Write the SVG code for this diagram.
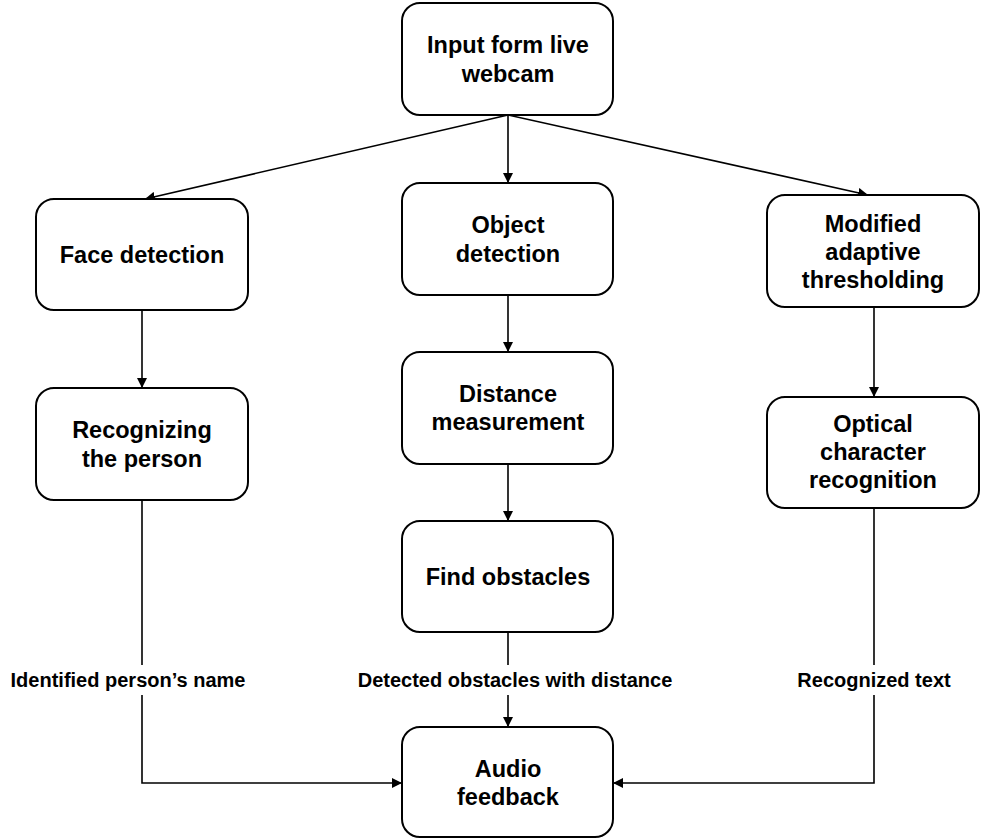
<svg xmlns="http://www.w3.org/2000/svg" width="981" height="839" viewBox="0 0 981 839">
  <defs>
    <marker id="arrow" viewBox="0 0 10 10" refX="10" refY="5" markerWidth="10" markerHeight="10" markerUnits="userSpaceOnUse" orient="auto">
      <path d="M0,0 L10,5 L0,10 Z" fill="#000"/>
    </marker>
  </defs>
  <style>
    .box { fill: #fff; stroke: #000; stroke-width: 2; }
    .lbl { font-family: "Liberation Sans", Arial, sans-serif; font-weight: bold; font-size: 23.5px; fill: #000; text-anchor: middle; }
    .edge-lbl { font-family: "Liberation Sans", Arial, sans-serif; font-weight: bold; font-size: 20px; fill: #000; text-anchor: middle; }
    .wire { fill: none; stroke: #000; stroke-width: 1.6; }
    .arr { marker-end: url(#arrow); }
  </style>
  <rect width="981" height="839" fill="#fff"/>

  <g id="connectors">
    <line class="wire arr" x1="508" y1="115" x2="145" y2="199"/>
    <line class="wire arr" x1="508" y1="115" x2="508" y2="183"/>
    <line class="wire arr" x1="508" y1="115" x2="868" y2="195"/>
    <line class="wire arr" x1="142" y1="310" x2="142" y2="388"/>
    <line class="wire arr" x1="508" y1="295" x2="508" y2="352"/>
    <line class="wire arr" x1="508" y1="464" x2="508" y2="521"/>
    <line class="wire arr" x1="874" y1="307" x2="874" y2="397"/>
    <!-- outputs into audio feedback, interrupted by their labels -->
    <line class="wire" x1="142" y1="500" x2="142" y2="665"/>
    <polyline class="wire arr" points="142,695 142,783 402,783"/>
    <line class="wire" x1="508" y1="632" x2="508" y2="665"/>
    <line class="wire arr" x1="508" y1="695" x2="508" y2="727"/>
    <line class="wire" x1="874" y1="508" x2="874" y2="665"/>
    <polyline class="wire arr" points="874,695 874,783 613,783"/>
    <text class="edge-lbl" x="128" y="687">Identified person’s name</text>
    <text class="edge-lbl" x="515" y="687">Detected obstacles with distance</text>
    <text class="edge-lbl" x="874" y="687">Recognized text</text>
  </g>

  <g id="input">
    <rect class="box" x="402" y="3" width="211" height="112" rx="18"/>
    <text class="lbl" x="508" y="53">Input form live</text>
    <text class="lbl" x="508" y="82">webcam</text>
  </g>

  <g id="face-detection">
    <rect class="box" x="36" y="199" width="212" height="111" rx="18"/>
    <text class="lbl" x="142" y="263">Face detection</text>
  </g>

  <g id="recognizing">
    <rect class="box" x="36" y="388" width="212" height="112" rx="18"/>
    <text class="lbl" x="142" y="438">Recognizing</text>
    <text class="lbl" x="142" y="467">the person</text>
  </g>

  <g id="object-detection">
    <rect class="box" x="402" y="183" width="211" height="112" rx="18"/>
    <text class="lbl" x="508" y="233">Object</text>
    <text class="lbl" x="508" y="262">detection</text>
  </g>

  <g id="distance">
    <rect class="box" x="402" y="352" width="211" height="112" rx="18"/>
    <text class="lbl" x="508" y="402">Distance</text>
    <text class="lbl" x="508" y="430">measurement</text>
  </g>

  <g id="find-obstacles">
    <rect class="box" x="402" y="521" width="211" height="111" rx="18"/>
    <text class="lbl" x="508" y="585">Find obstacles</text>
  </g>

  <g id="thresholding">
    <rect class="box" x="767" y="195" width="212" height="112" rx="18"/>
    <text class="lbl" x="873" y="232">Modified</text>
    <text class="lbl" x="873" y="260">adaptive</text>
    <text class="lbl" x="873" y="288">thresholding</text>
  </g>

  <g id="ocr">
    <rect class="box" x="767" y="397" width="212" height="111" rx="18"/>
    <text class="lbl" x="873" y="432">Optical</text>
    <text class="lbl" x="873" y="460">character</text>
    <text class="lbl" x="873" y="488">recognition</text>
  </g>

  <g id="audio-feedback">
    <rect class="box" x="402" y="727" width="211" height="110" rx="18"/>
    <text class="lbl" x="508" y="777">Audio</text>
    <text class="lbl" x="508" y="805">feedback</text>
  </g>
</svg>
